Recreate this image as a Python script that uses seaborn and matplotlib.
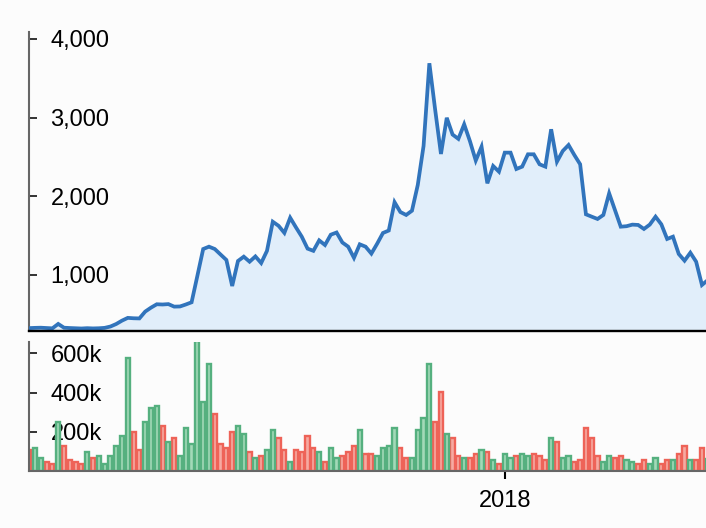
import matplotlib
matplotlib.use("Agg")
import matplotlib.pyplot as plt
import seaborn as sns
import pandas as pd
import numpy as np
from matplotlib.colors import to_hex

# ---------------- data ----------------
close = [325, 328, 330, 326, 322, 378, 330, 326, 323, 320,
         324, 321, 323, 328, 345, 377, 420, 455, 450, 448,
         535, 585, 628, 625, 630, 598, 600, 625, 653, 990,
         1330, 1360, 1330, 1260, 1191, 860, 1178, 1233, 1169, 1236,
         1152, 1307, 1677, 1625, 1535, 1728, 1605, 1487, 1335, 1307,
         1440, 1381, 1512, 1540, 1413, 1360, 1218, 1390, 1360, 1272,
         1398, 1534, 1565, 1925, 1800, 1763, 1817, 2144, 2640, 3691,
         3100, 2538, 2998, 2785, 2730, 2915, 2700, 2455, 2631, 2165,
         2385, 2313, 2555, 2555, 2347, 2377, 2534, 2534, 2407, 2377,
         2852, 2440, 2576, 2652, 2525, 2407, 1771, 1741, 1712, 1763,
         2038, 1826, 1614, 1620, 1640, 1636, 1585, 1640, 1741, 1644,
         1458, 1487, 1267, 1182, 1283, 1169, 873, 935]

volume_k = [107, 116, 65, 44, 34, 248, 126, 54, 44, 34,
            95, 65, 75, 34, 75, 126, 177, 575, 197, 105,
            248, 320, 330, 228, 146, 167, 75, 218, 136, 663,
            350, 544, 289, 136, 116, 197, 228, 187, 95, 65,
            75, 105, 207, 167, 105, 44, 105, 95, 177, 116,
            95, 44, 116, 65, 75, 95, 126, 207, 85, 85,
            75, 116, 126, 218, 116, 65, 65, 207, 269, 544,
            248, 401, 187, 167, 75, 65, 65, 85, 105, 95,
            54, 34, 85, 65, 75, 85, 75, 85, 75, 54,
            167, 146, 65, 75, 44, 54, 218, 167, 75, 44,
            75, 65, 75, 54, 44, 34, 54, 34, 65, 34,
            54, 54, 85, 126, 54, 54, 116, 60]

direction = list("DUUDDUDDDDUDUUUUUUDD"
                 "UUUDUDUUUUUUDDDDUUDU"
                 "DUUDDUDDDDUDUUDDDUDD"
                 "UUUUDDUUUUDDUDDUDDUD"
                 "UDUUDUUDDDUDUUDDDDDU"
                 "UDDUUDDUUDDUDDUDDU")

price_ticks = [1000, 2000, 3000, 4000]
price_tick_labels = ["1,000", "2,000", "3,000", "4,000"]
vol_ticks = [200000, 400000, 600000]
vol_tick_labels = ["200k", "400k", "600k"]
year_tick_pos = [82]
year_tick_labels = ["2018"]

# ---------------- styling ----------------
sns.set_theme(style="white")
plt.rcParams["font.family"] = ["Liberation Sans", "DejaVu Sans"]
BG = "#fcfcfc"
LINE = "#3174bc"
FILL = "#e1eefa"
UP_EDGE, UP_FILL = "#55b07f", "#a3d9b8"
DN_EDGE, DN_FILL = "#ee6358", "#f6aaa2"
FS = 17
BAR_W = 0.72

idx = np.arange(len(close))
vol = np.array(volume_k) * 1000
df = pd.DataFrame({"i": idx, "close": close, "volume": vol,
                   "dir": ["up" if d == "U" else "down" for d in direction]})

W, H = 706, 528
fig = plt.figure(figsize=(W / 100, H / 100), dpi=100, facecolor=BG)
x0 = 29.2
x_right = 116.7
ax1 = fig.add_axes([x0 / W, (H - 330.7) / H, (W - x0) / W, (330.7 - 31.7) / H])
ax2 = fig.add_axes([x0 / W, (H - 471) / H, (W - x0) / W, (471 - 341.7) / H])
for ax in (ax1, ax2):
    ax.set_facecolor(BG)

# ---- price panel ----
ax1.fill_between(df["i"], df["close"], 292, color=FILL, lw=0, zorder=1)
sns.lineplot(data=df, x="i", y="close", ax=ax1, color=LINE, linewidth=2.7,
             zorder=3)
ax1.lines[-1].set_solid_joinstyle("miter")
ax1.set_xlim(0, x_right)
ax1.set_ylim(292, 4092)
ax1.set_xticks([])
ax1.set_yticks(price_ticks)
ax1.set_yticklabels(price_tick_labels)
ax1.set_xlabel("")
ax1.set_ylabel("")

# ---- volume panel ----
sns.barplot(data=df, x="i", y="volume", hue="dir", ax=ax2,
            palette={"up": UP_FILL, "down": DN_FILL}, native_scale=True,
            width=BAR_W, dodge=False, legend=False, errorbar=None,
            saturation=1, linewidth=1.7, zorder=2)
for p in ax2.patches:
    fc = to_hex(p.get_facecolor())
    p.set_edgecolor(UP_EDGE if fc == to_hex(UP_FILL) else DN_EDGE)
    p.set_linewidth(1.7)
    cx = p.get_x() + p.get_width() / 2
    p.set_width(BAR_W)
    p.set_x(cx - BAR_W / 2)
ax2.set_xlim(0, x_right)
ax2.set_ylim(0, 660000)
ax2.set_yticks(vol_ticks)
ax2.set_yticklabels(vol_tick_labels)
ax2.set_xticks(year_tick_pos)
ax2.set_xticklabels(year_tick_labels)
ax2.set_xlabel("")
ax2.set_ylabel("")

for ax in (ax1, ax2):
    for s in ("top", "right"):
        ax.spines[s].set_visible(False)
    ax.spines["left"].set_color("#666666")
    ax.spines["left"].set_linewidth(1.5)
    ax.tick_params(axis="y", direction="in", length=5.8, width=1.2,
                   color="#111111", pad=-15.3, labelsize=FS,
                   labelcolor="#000000", left=True)
    for lab in ax.get_yticklabels():
        lab.set_horizontalalignment("left")

ax1.spines["bottom"].set_color("#000000")
ax1.spines["bottom"].set_linewidth(1.7)
ax1.spines["bottom"].set_zorder(5)
ax2.spines["bottom"].set_color("#666666")
ax2.spines["bottom"].set_linewidth(1.5)
ax2.tick_params(axis="x", direction="out", length=6, width=1.5,
                color="#000000", pad=8, labelsize=FS, labelcolor="#000000",
                bottom=True)

fig.savefig("out.png", dpi=100, facecolor=BG)
